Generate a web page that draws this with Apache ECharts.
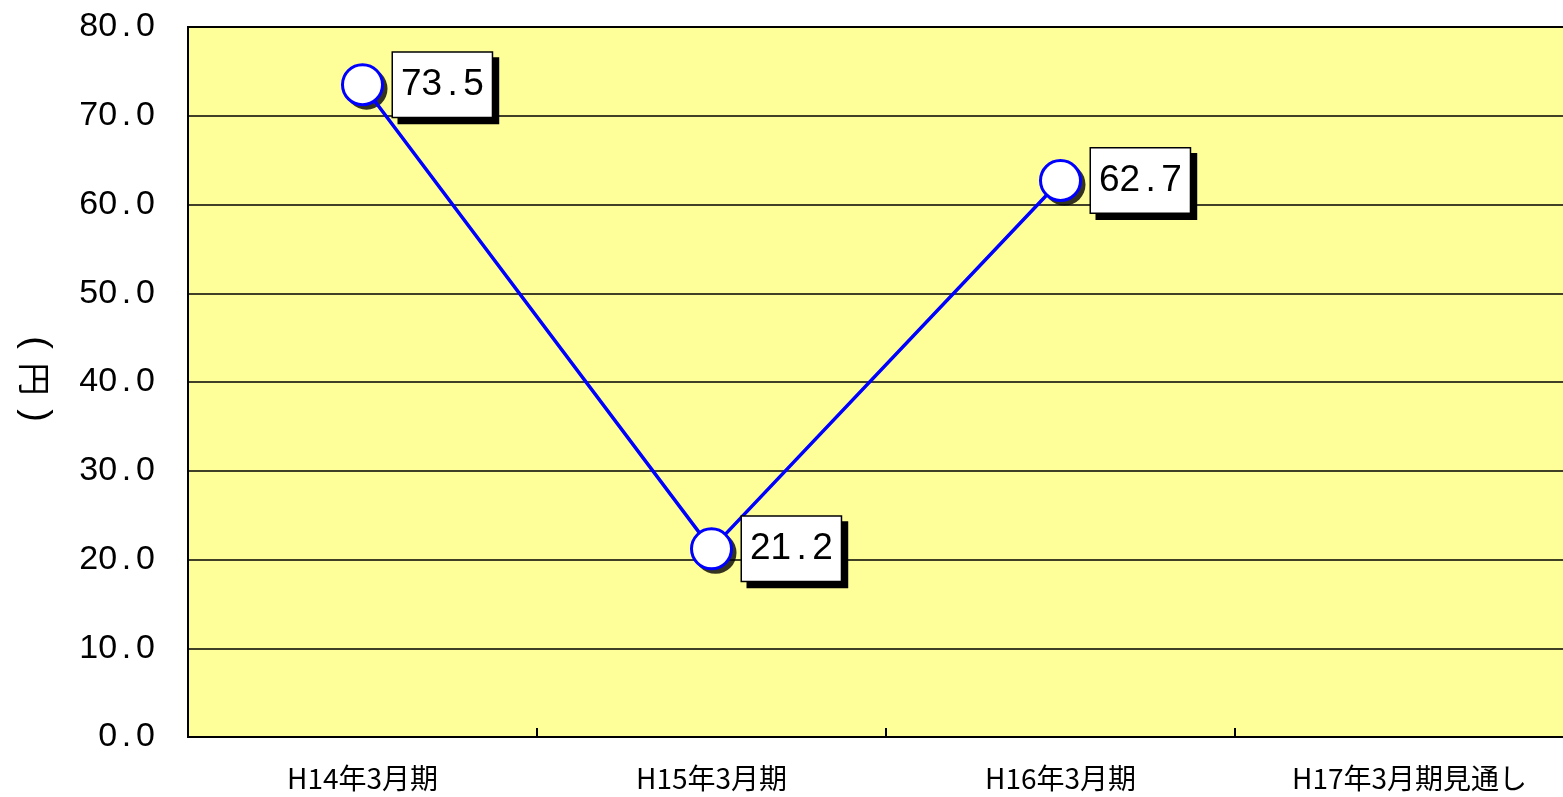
<!DOCTYPE html>
<html>
<head>
<meta charset="utf-8">
<script src="https://cdn.jsdelivr.net/npm/echarts@6/dist/echarts.min.js"></script>
<style>
html,body{margin:0;padding:0;background:#fff;}
#c{width:1563px;height:797px;}
</style>
</head>
<body>
<div id="c"></div>
<script>
const categories = ['H14年3月期', 'H15年3月期', 'H16年3月期', 'H17年3月期見通し'];
const values = [73.5, 21.2, 62.7, null];
const yMin = 0, yMax = 80, yInterval = 10;
const yNameParts = ['(', '円', ')'];

function spaced(v, key) {
  const s = v.toFixed(1).split('.');
  return '{' + key + 'd|' + s[0] + '}{' + key + 'p|.}{' + key + 'd|' + s[1] + '}';
}

const chart = echarts.init(document.getElementById('c'));
chart.setOption({
  animation: false,
  grid: {
    left: 188, top: 27, width: 1396, bottom: 60,
    containLabel: false,
    outerBoundsMode: 'none',
    show: true, backgroundColor: '#FFFF99', borderColor: '#000', borderWidth: 2
  },
  graphic: [{
    type: 'text',
    x: 35, y: 379,
    rotation: -Math.PI / 2,
    style: {
      text: '{p|' + yNameParts[0] + '}{k|' + yNameParts[1] + '}{p|' + yNameParts[2] + '}',
      align: 'center',
      verticalAlign: 'middle',
      rich: {
        p: { fontSize: 38, fontFamily: 'Liberation Sans', fill: '#000', width: 33, align: 'center' },
        k: { fontSize: 33, fontFamily: 'Noto Sans CJK JP', fill: '#000', width: 40, align: 'center' }
      }
    }
  }],
  xAxis: {
    type: 'category',
    data: categories,
    boundaryGap: true,
    axisLine: { lineStyle: { color: '#000', width: 2 } },
    axisTick: { show: true, inside: true, length: 9, lineStyle: { color: '#000', width: 2 } },
    axisLabel: { color: '#000', fontSize: 28, fontFamily: 'Noto Sans CJK JP', margin: 27, hideOverlap: false },
    splitLine: { show: false }
  },
  yAxis: {
    type: 'value',
    min: yMin, max: yMax, interval: yInterval,
    axisLine: { show: true, lineStyle: { color: '#000', width: 2 } },
    axisTick: { show: false },
    axisLabel: {
      color: '#000', margin: 33,
      formatter: v => spaced(v, 'a'),
      rich: {
        ad: { fontSize: 34, fontFamily: 'Liberation Sans', color: '#000' },
        ap: { fontSize: 34, fontFamily: 'Liberation Sans', color: '#000', width: 19, align: 'center' }
      }
    },
    splitLine: { show: true, lineStyle: { color: '#000', width: 1.5 } }
  },
  series: [{
    type: 'scatter',
    data: values,
    symbol: 'circle',
    symbolSize: 42,
    symbolOffset: [4, 4],
    itemStyle: { color: '#000' },
    silent: true,
    z: 2
  }, {
    type: 'line',
    data: values,
    connectNulls: false,
    lineStyle: { color: '#0000FF', width: 3.5 },
    symbol: 'circle',
    symbolSize: 40,
    itemStyle: { color: '#FFFFFF', borderColor: '#0000FF', borderWidth: 3 },
    label: {
      show: true,
      position: 'right',
      distance: 9,
      formatter: p => spaced(p.value, 'b'),
      rich: {
        bd: { fontSize: 37, fontFamily: 'Liberation Sans', color: '#000', lineHeight: 42 },
        bp: { fontSize: 37, fontFamily: 'Liberation Sans', color: '#000', lineHeight: 42, width: 21, align: 'center' }
      },
      backgroundColor: '#FFFFFF',
      borderColor: '#000',
      borderWidth: 1.5,
      padding: [11, 8, 11, 8],
      shadowColor: '#000',
      shadowOffsetX: 6,
      shadowOffsetY: 6,
      shadowBlur: 0
    },
    z: 3
  }]
});
</script>
</body>
</html>
